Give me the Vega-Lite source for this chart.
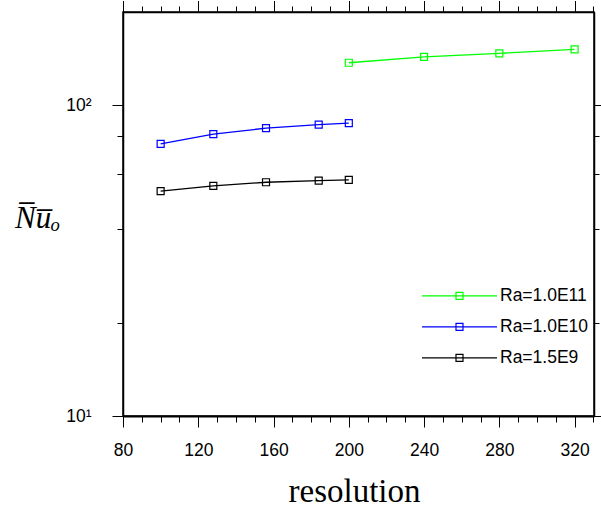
{
  "$schema": "https://vega.github.io/schema/vega-lite/v6.json",
  "width": 471,
  "height": 404,
  "autosize": {"type": "none"},
  "padding": {"left": 123, "top": 12, "right": 7, "bottom": 93},
  "background": "white",
  "config": {
    "view": {"stroke": "black", "strokeWidth": 1.5},
    "font": "Liberation Sans",
    "axis": {"domainColor": "black", "domainWidth": 1.5, "tickColor": "black", "tickWidth": 1, "labelColor": "black", "labelFont": "Liberation Sans", "labelFontSize": 17.5, "grid": false, "titleColor": "black"}
  },
  "data": {
    "values": [
      {"resolution": 200, "nu": 137.3, "ra": "Ra=1.0E11"},
      {"resolution": 240, "nu": 143.3, "ra": "Ra=1.0E11"},
      {"resolution": 280, "nu": 147.2, "ra": "Ra=1.0E11"},
      {"resolution": 320, "nu": 151.6, "ra": "Ra=1.0E11"},
      {"resolution": 100, "nu": 75.2, "ra": "Ra=1.0E10"},
      {"resolution": 128, "nu": 80.9, "ra": "Ra=1.0E10"},
      {"resolution": 156, "nu": 84.5, "ra": "Ra=1.0E10"},
      {"resolution": 184, "nu": 86.7, "ra": "Ra=1.0E10"},
      {"resolution": 200, "nu": 87.7, "ra": "Ra=1.0E10"},
      {"resolution": 100, "nu": 53.0, "ra": "Ra=1.5E9"},
      {"resolution": 128, "nu": 55.1, "ra": "Ra=1.5E9"},
      {"resolution": 156, "nu": 56.6, "ra": "Ra=1.5E9"},
      {"resolution": 184, "nu": 57.3, "ra": "Ra=1.5E9"},
      {"resolution": 200, "nu": 57.6, "ra": "Ra=1.5E9"}
    ]
  },
  "layer": [
    {
      "mark": {"type": "line", "strokeWidth": 1.3},
      "encoding": {
        "x": {
          "field": "resolution", "type": "quantitative",
          "scale": {"domain": [80, 330.3], "nice": false, "zero": false},
          "axis": {
            "orient": "bottom",
            "values": [80, 90, 100, 110, 120, 130, 140, 150, 160, 170, 180, 190, 200, 210, 220, 230, 240, 250, 260, 270, 280, 290, 300, 310, 320, 330],
            "labelExpr": "datum.value % 40 == 0 ? format(datum.value, 'd') : ''",
            "tickSize": {"condition": {"test": "datum.value % 40 == 0", "value": 11}, "value": 6},
            "labelPadding": 14,
            "labelFlush": false,
            "labelOverlap": false,
            "domainWidth": 2,
            "title": "resolution",
            "titleFont": "Liberation Serif",
            "titleFontSize": 33,
            "titleFontWeight": "normal",
            "titleX": 231,
            "titleY": 85,
            "titleAlign": "center",
            "titleBaseline": "alphabetic"
          }
        },
        "y": {
          "field": "nu", "type": "quantitative",
          "scale": {"type": "log", "domain": [10, 200], "nice": false},
          "axis": {
            "orient": "left",
            "values": [10, 20, 40, 60, 80, 100],
            "labelExpr": "datum.value == 100 ? '10²' : (datum.value == 10 ? '10¹' : '')",
            "tickSize": {"condition": {"test": "datum.value == 10 || datum.value == 100", "value": 11}, "value": 6},
            "labelPadding": 21,
            "labelFlush": false,
            "labelOverlap": false,
            "title": "N̅u̅ₒ",
            "titleFont": "Liberation Serif",
            "titleFontStyle": "italic",
            "titleFontWeight": "normal",
            "titleFontSize": 31,
            "titleAngle": 0,
            "titleX": -86,
            "titleY": 215,
            "titleAlign": "center",
            "titleBaseline": "alphabetic"
          }
        },
        "color": {
          "field": "ra", "type": "nominal",
          "scale": {"domain": ["Ra=1.0E11", "Ra=1.0E10", "Ra=1.5E9"], "range": ["#00ff00", "#0000ff", "#000000"]},
          "legend": {
            "orient": "none",
            "legendX": 298,
            "legendY": 268.6,
            "title": null,
            "padding": 0,
            "rowPadding": 0,
            "clipHeight": 30.7,
            "symbolType": "M-1,0H1M-0.0933,-0.0933H0.0933V0.0933H-0.0933Z",
            "symbolSize": 5625,
            "symbolStrokeWidth": 1.2,
            "symbolFillColor": "transparent",
            "labelOffset": 2,
            "labelFont": "Liberation Sans",
            "labelFontSize": 17.5,
            "labelColor": "black",
            "labelLimit": 200
          }
        }
      }
    },
    {
      "mark": {"type": "point", "shape": "square", "filled": false, "size": 49, "strokeWidth": 1.2, "opacity": 1},
      "encoding": {
        "x": {
          "field": "resolution", "type": "quantitative",
          "axis": {
            "orient": "top",
            "values": [80, 90, 100, 110, 120, 130, 140, 150, 160, 170, 180, 190, 200, 210, 220, 230, 240, 250, 260, 270, 280, 290, 300, 310, 320, 330],
            "labels": false,
            "tickSize": {"condition": {"test": "datum.value % 40 == 0", "value": 11.5}, "value": 6},
            "title": null
          }
        },
        "y": {
          "field": "nu", "type": "quantitative",
          "axis": {
            "orient": "right",
            "values": [10, 20, 40, 60, 80, 100],
            "labels": false,
            "tickSize": {"condition": {"test": "datum.value == 10 || datum.value == 100", "value": 7}, "value": 5},
            "title": null
          }
        },
        "color": {"field": "ra", "type": "nominal", "legend": null}
      }
    }
  ],
  "resolve": {"axis": {"x": "independent", "y": "independent"}}
}
